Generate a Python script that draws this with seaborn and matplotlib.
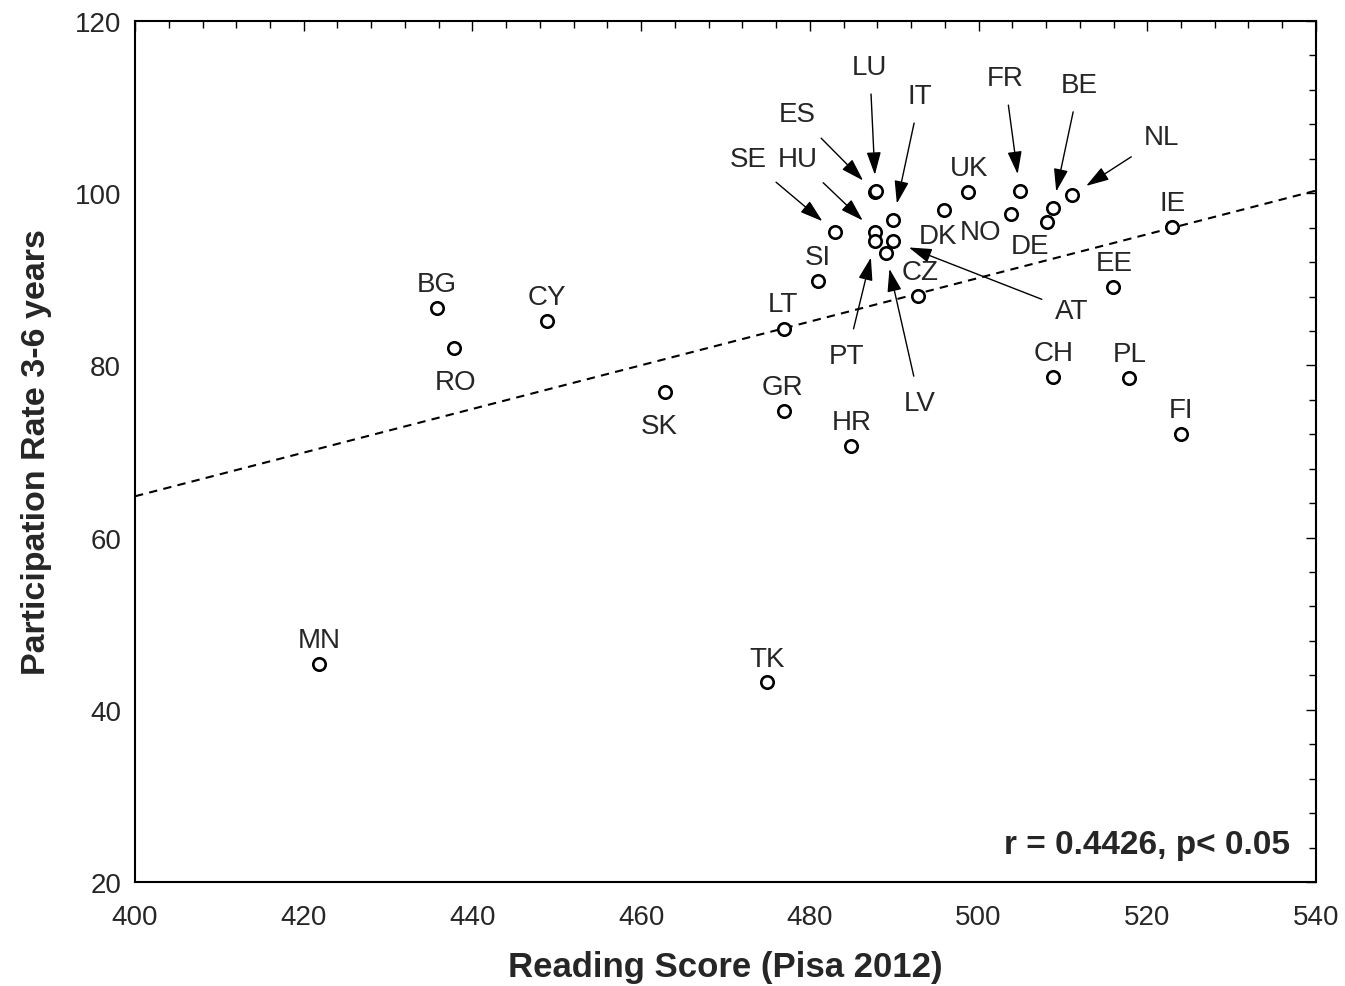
import matplotlib
matplotlib.use("Agg")
import matplotlib.pyplot as plt
import seaborn as sns
import pandas as pd
from matplotlib.ticker import MultipleLocator

# Data
countries = ["MN", "TK", "BG", "RO", "CY", "SK", "GR", "LT", "HR", "SI",
             "SE", "ES", "LU", "IT", "HU", "PT", "AT", "LV", "CZ", "DK",
             "UK", "NO", "FR", "DE", "BE", "NL", "IE", "EE", "CH", "PL", "FI"]
reading = [421.8, 474.9, 435.8, 437.8, 448.8, 462.8, 476.9, 476.9, 484.9, 481.0,
           483.0, 487.7, 487.8, 489.9, 487.7, 487.7, 489.9, 489.0, 492.8, 495.9,
           498.7, 503.8, 504.9, 508.1, 508.8, 511.1, 522.9, 515.9, 508.8, 517.8, 524.0]
participation = [45.3, 43.2, 86.7, 82.0, 85.2, 76.9, 74.7, 84.2, 70.6, 89.8,
                 95.5, 100.1, 100.2, 96.9, 95.5, 94.4, 94.4, 93.1, 88.1, 98.0,
                 100.1, 97.6, 100.3, 96.7, 98.3, 99.8, 96.1, 89.1, 78.7, 78.5, 72.0]

# fitted trend line (endpoints)
trend_x = [400, 540]
trend_y = [64.8, 100.3]

stats_text = "r = 0.4426, p< 0.05"

df = pd.DataFrame({"country": countries, "reading": reading, "participation": participation})

# label placement (data coords); arrowed labels get an arrow to the point
label_pos = {
    "MN": (421.8, 48.1), "TK": (474.9, 45.9), "BG": (435.8, 89.5), "RO": (438.05, 78.1),
    "CY": (448.8, 87.9), "SK": (462.2, 73.0), "GR": (476.8, 77.5), "LT": (476.8, 87.1),
    "HR": (485.0, 73.4), "SI": (481.0, 92.6), "CZ": (493.05, 90.85), "CH": (508.9, 81.4),
    "PL": (517.95, 81.3), "FI": (524.0, 74.8), "EE": (516.05, 91.9), "IE": (523.05, 98.9),
    "UK": (498.9, 102.9), "DK": (495.2, 95.0), "NO": (500.2, 95.5), "DE": (506.1, 93.9),
}
arrow_pos = {
    "LU": (487.1, 114.7), "ES": (478.5, 109.2), "IT": (493.05, 111.3), "SE": (472.7, 104.0),
    "HU": (478.6, 104.0), "FR": (503.1, 113.4), "BE": (511.9, 112.6), "NL": (521.7, 106.5),
    "PT": (484.4, 81.1), "LV": (493.05, 75.6), "AT": (511.1, 86.3),
}

sns.set_style("white")
plt.rcParams["font.family"] = ["Liberation Sans", "DejaVu Sans"]

fig = plt.figure(figsize=(13.45, 9.87), dpi=100)
ax = fig.add_axes([0.1004, 0.1054, 0.878, 0.8723])

ax.plot(trend_x, trend_y, color="black", lw=1.5, linestyle=(0, (4, 3)), zorder=1)
sns.scatterplot(data=df, x="reading", y="participation", ax=ax, s=80,
                facecolor="white", edgecolor="black", linewidth=1.9, zorder=3)

for _, row in df.iterrows():
    c = row["country"]
    if c in label_pos:
        ax.text(*label_pos[c], c, fontsize=20, ha="center", va="center")
    elif c in arrow_pos:
        ax.annotate(c, xy=(row["reading"], row["participation"]), xytext=arrow_pos[c],
                    fontsize=20, ha="center", va="center",
                    arrowprops=dict(arrowstyle="-|>,head_length=0.7,head_width=0.22",
                                    mutation_scale=20, color="black", lw=1.0,
                                    shrinkA=8, shrinkB=12))

ax.text(0.978, 0.044, stats_text, transform=ax.transAxes, ha="right", va="center",
        fontsize=24, fontweight="bold")

ax.set_xlim(400, 540)
ax.set_ylim(20, 120)
ax.xaxis.set_major_locator(MultipleLocator(20))
ax.xaxis.set_minor_locator(MultipleLocator(4))
ax.yaxis.set_major_locator(MultipleLocator(20))
ax.yaxis.set_minor_locator(MultipleLocator(4))
ax.tick_params(which="both", direction="in", top=True, right=True, color="black",
               labelsize=20, width=1.0)
ax.tick_params(which="major", length=7, pad=10)
ax.tick_params(which="minor", length=5)
ax.tick_params(axis="x", which="major", pad=16)
for sp in ax.spines.values():
    sp.set_color("black")
    sp.set_linewidth(1.5)

ax.set_xlabel("Reading Score (Pisa 2012)", fontsize=25, fontweight="bold", labelpad=14)
ax.set_ylabel("Participation Rate 3-6 years", fontsize=24.5, fontweight="bold", labelpad=16)

fig.savefig("out.png", dpi=100)
